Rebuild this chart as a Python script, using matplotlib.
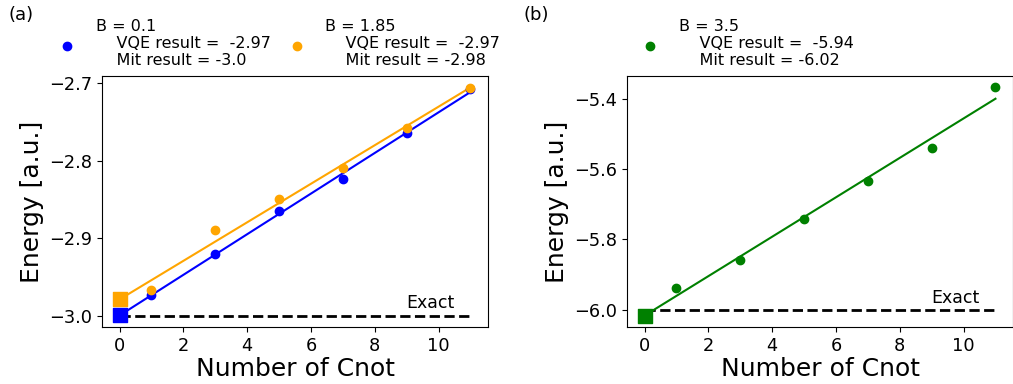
import numpy as np
import matplotlib
matplotlib.use("Agg")
import matplotlib.pyplot as plt

# ---- data ----
cnots = [1, 3, 5, 7, 9, 11]
energy_b01 = [-2.973, -2.921, -2.865, -2.824, -2.765, -2.708]
energy_b185 = [-2.967, -2.890, -2.849, -2.810, -2.758, -2.706]
energy_b35 = [-5.939, -5.859, -5.743, -5.633, -5.540, -5.368]
exact_a = -3.0
exact_b = -6.0
labels_a = ["B = 0.1\n    VQE result =  -2.97\n    Mit result = -3.0",
            "B = 1.85\n    VQE result =  -2.97\n    Mit result = -2.98"]
label_b = "B = 3.5\n    VQE result =  -5.94\n    Mit result = -6.02"
xfit = [0, 11]

W, H = 1013, 384
fig = plt.figure(figsize=(W / 100, H / 100), dpi=100)

def ax_rect(l, r, t, b):
    return [l / W, 1 - b / H, (r - l) / W, (b - t) / H]

axa = fig.add_axes(ax_rect(102, 488, 76, 327))
axb = fig.add_axes(ax_rect(627, 1013, 76, 327))

TICK = 12.8
LAB = 18
LEG = 11.5

def panel(ax, series, colors, labels, exact, exact_txt_y):
    handles = []
    for y, c, lab in zip(series, colors, labels):
        x = np.array(cnots, dtype=float)
        yy = np.array(y)
        p = np.polyfit(x, yy, 1)
        xf = np.array(xfit, dtype=float)
        ax.plot(xf, np.polyval(p, xf), color=c, lw=1.5, zorder=2)
        h = ax.scatter(x, yy, color=c, s=36, zorder=3, label=lab)
        ax.scatter([0], [p[1]], marker='s', color=c, s=95, zorder=4)
        handles.append(h)
    ax.plot(xfit, [exact, exact], 'k--', lw=2, zorder=1)
    ax.text(9, exact_txt_y, "Exact", fontsize=12.5)
    ax.set_xlabel("Number of Cnot", fontsize=LAB, labelpad=2)
    ax.set_ylabel("Energy [a.u.]", fontsize=LAB)
    ax.tick_params(labelsize=TICK)
    ax.set_xticks([0, 2, 4, 6, 8, 10])
    return handles

ha = panel(axa, [energy_b01, energy_b185], ['blue', 'orange'], labels_a, exact_a, -2.99)
axa.set_yticks([-3.0, -2.9, -2.8, -2.7])
hb = panel(axb, [energy_b35], ['green'], [label_b], exact_b, -5.981)
axb.set_yticks([-6.0, -5.8, -5.6, -5.4])

def legend(ax, handles, x0, y0, ncol):
    leg = ax.legend(handles=handles, loc='upper left',
                    bbox_to_anchor=(x0 / W, 1 - y0 / H),
                    bbox_transform=fig.transFigure, frameon=False,
                    fontsize=LEG, ncol=ncol, borderaxespad=0,
                    columnspacing=0.6, handletextpad=0.8, scatterpoints=1)
    for t in leg.get_texts():
        t.set_linespacing(1.17)
    return leg

legend(axa, ha, 45, 13, 2)
legend(axb, hb, 628, 13, 1)

fig.text(8 / W, 1 - 15 / H, "(a)", fontsize=13, va='center', ha='left')
fig.text(523 / W, 1 - 15 / H, "(b)", fontsize=13, va='center', ha='left')

fig.savefig("out.png", dpi=100)
